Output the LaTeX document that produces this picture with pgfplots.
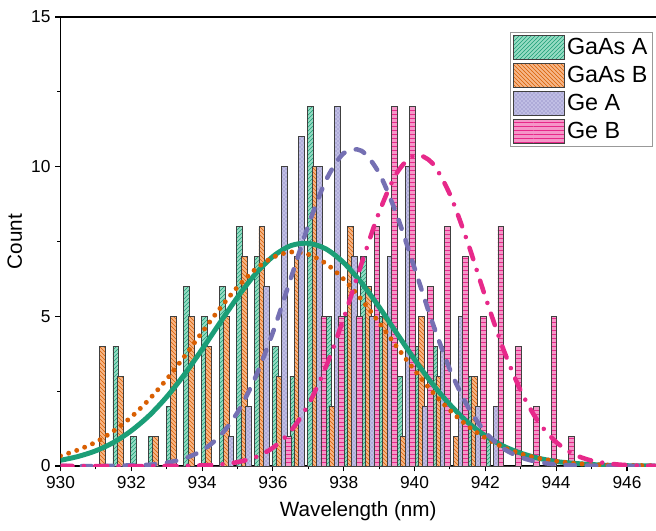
\documentclass[border=0pt]{standalone}
\usepackage{fontspec}
\setmainfont{Liberation Sans}
\usepackage{pgfplots}
\usepackage{pgfplotstable}
\pgfplotsset{compat=1.18}
\usetikzlibrary{patterns}

\definecolor{cga}{HTML}{1B9E77}
\definecolor{cgb}{HTML}{D95F02}
\definecolor{cgea}{HTML}{7570B3}
\definecolor{cgeb}{HTML}{E7298A}
\definecolor{fga}{RGB}{150,220,195}
\definecolor{fgb}{RGB}{246,182,135}
\definecolor{fgea}{RGB}{192,190,228}
\definecolor{fgeb}{RGB}{245,150,200}

% counts per 0.5 nm bin (left edge of bin)
\pgfplotstableread{
bin   ga gb gea geb
931.0 0  4  0   0
931.5 4  3  0   0
932.0 1  0  0   0
932.5 1  1  0   0
933.0 2  5  0   0
933.5 6  5  0   0
934.0 5  4  0   0
934.5 6  5  1   0
935.0 8  7  2   0
935.5 7  8  6   0
936.0 4  3  10  1
936.5 3  7  11  0
937.0 12 10 10  5
937.5 5  2  12  5
938.0 5  8  7   5
938.5 7  6  5   8
939.0 5  5  7   12
939.5 3  1  10  12
940.0 4  5  2   6
940.5 4  3  4   8
941.0 0  1  5   7
941.5 3  3  2   5
942.0 1  0  2   8
942.5 0  0  0   4
943.0 0  0  0   2
943.5 0  0  0   5
944.0 0  0  0   1
}\bins

\pgfplotsset{
  barbase/.style={ybar, bar width=0.165, bar shift=0pt, draw=black!75, line width=0.6pt,
    legend image code/.code={\draw[##1] (0pt,-9pt) rectangle (38pt,9pt);}},
  barA/.style={barbase, fill=fga, postaction={pattern=north east lines, pattern color=cga}},
  barB/.style={barbase, fill=fgb, postaction={pattern=north west lines, pattern color=cgb}},
  barC/.style={barbase, fill=fgea, postaction={pattern=crosshatch dots, pattern color=cgea}},
  barD/.style={barbase, fill=fgeb, postaction={pattern=horizontal lines, pattern color=cgeb}},
}

\begin{document}
\begin{tikzpicture}
\begin{axis}[
  scale only axis,
  width=446.6pt, height=336.75pt,
  xmin=930, xmax=946.82, ymin=0, ymax=15,
  axis x line*=box, axis y line*=left,
  xtick={930,932,...,946}, minor x tick num=1,
  ytick={0,5,10,15}, minor y tick num=1,
  xtick pos=left, ytick pos=left,
  tick align=outside,
  major tick length=4pt, minor tick length=2.5pt,
  every tick/.style={black, line width=0.8pt},
  axis line style={line width=0.8pt},
  /pgf/number format/assume math mode=true,
  /pgf/number format/1000 sep={},
  ticklabel style={font=\fontsize{13}{15}\selectfont},
  xlabel={Wavelength (nm)}, ylabel={Count},
  label style={font=\fontsize{15.5}{18}\selectfont},
  xlabel style={yshift=-3pt},
  legend style={at={(0.995,0.967)}, anchor=north east, draw=black!40,
    font=\fontsize{17.5}{20}\selectfont, row sep=2.5pt, inner sep=2pt},
  legend cell align=left,
]
\addplot[barA] table[x expr=\thisrow{bin}+0.0625, y=ga] {\bins};
\addplot[barB] table[x expr=\thisrow{bin}+0.1875, y=gb] {\bins};
\addplot[barC] table[x expr=\thisrow{bin}+0.3125, y=gea] {\bins};
\addplot[barD] table[x expr=\thisrow{bin}+0.4375, y=geb] {\bins};
\legend{GaAs A, GaAs B, Ge A, Ge B}

% GaAs A fit
\addplot[cga, line width=3.7pt, smooth, forget plot] coordinates {
(930,0.19)(930.5,0.32)(931,0.51)(931.5,0.79)(932,1.18)(932.5,1.68)(933,2.31)(933.5,3.06)
(934,3.90)(934.5,4.78)(935,5.64)(935.5,6.41)(936,7.00)(936.5,7.36)(937,7.44)(937.5,7.25)
(938,6.79)(938.5,6.12)(939,5.31)(939.5,4.43)(940,3.56)(940.5,2.75)(941,2.05)(941.5,1.46)
(942,1.01)(942.5,0.67)(943,0.43)(943.5,0.26)(944,0.15)(944.5,0.09)(945,0.05)(945.5,0.02)
(946,0.01)(946.8,0)};
% GaAs B fit
\addplot[cgb, line width=3.7pt, line cap=round, dash pattern=on 0pt off 6.4pt, smooth, forget plot] coordinates {
(930,0.34)(930.5,0.54)(931,0.80)(931.5,1.17)(932,1.64)(932.5,2.22)(933,2.90)(933.5,3.66)
(934,4.47)(934.5,5.26)(935,5.98)(935.5,6.57)(936,6.97)(936.5,7.15)(937,7.07)(937.5,6.76)
(938,6.24)(938.5,5.56)(939,4.79)(939.5,3.98)(940,3.20)(940.5,2.48)(941,1.86)(941.5,1.34)
(942,0.94)(942.5,0.63)(943,0.41)(943.5,0.26)(944,0.16)(944.5,0.09)(945,0.05)(945.5,0.03)
(946,0.02)(946.8,0.01)};
% Ge A fit
\addplot[cgea, line width=3.4pt, line cap=round, dash pattern=on 7pt off 9pt, smooth, forget plot] coordinates {
(930,0)(931,0)(932,0.02)(932.5,0.04)(933,0.11)(933.5,0.25)(934,0.52)(934.5,1.00)
(935,1.79)(935.5,2.95)(936,4.47)(936.5,6.25)(937,8.04)(937.5,9.55)(938,10.45)(938.5,10.53)
(939,9.78)(939.5,8.38)(940,6.61)(940.5,4.81)(941,3.22)(941.5,1.99)(942,1.13)(942.5,0.59)
(943,0.29)(943.5,0.13)(944,0.05)(944.5,0.02)(945,0.01)(946.8,0)};
% Ge B fit
\addplot[cgeb, line width=3.4pt, line cap=round, dash pattern=on 9pt off 8.5pt on 0pt off 8.5pt, smooth, forget plot] coordinates {
(930,0)(933,0)(934,0.02)(934.5,0.05)(935,0.13)(935.5,0.29)(936,0.61)(936.5,1.16)
(937,2.05)(937.5,3.32)(938,4.94)(938.5,6.75)(939,8.48)(939.5,9.79)(940,10.38)(940.5,10.12)
(941,9.07)(941.5,7.47)(942,5.65)(942.5,3.93)(943,2.51)(943.5,1.47)(944,0.80)(944.5,0.39)
(945,0.18)(945.5,0.08)(946,0.03)(946.8,0)};
\end{axis}
\pgfresetboundingbox
\path[use as bounding box] ([xshift=-45.4pt,yshift=-48.75pt]current axis.south west)
  rectangle ([yshift=12.75pt]current axis.north east);
\end{tikzpicture}
\end{document}
